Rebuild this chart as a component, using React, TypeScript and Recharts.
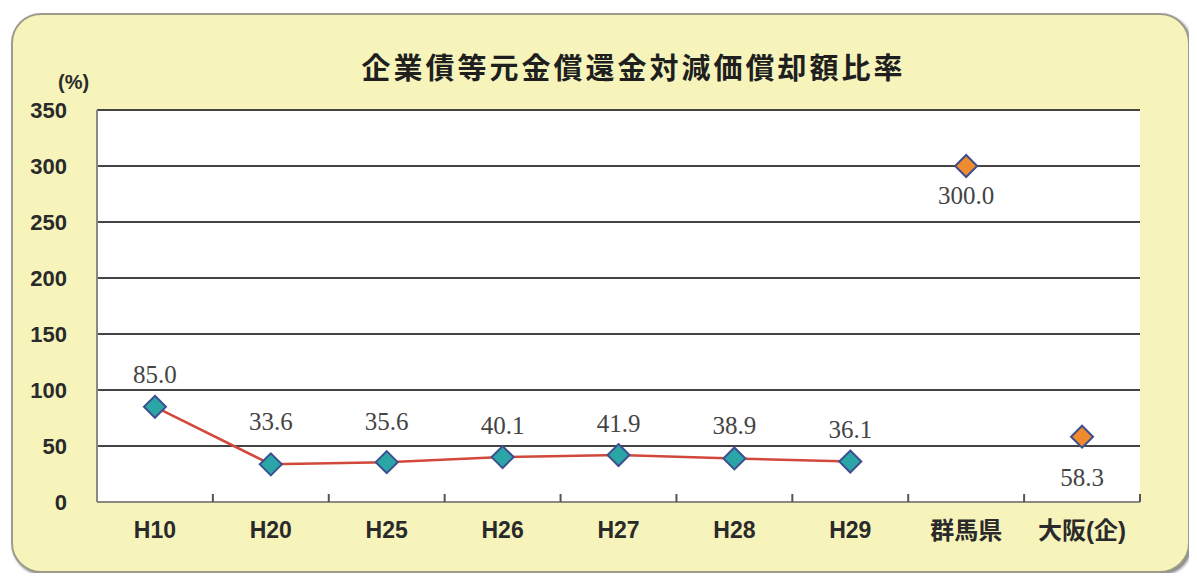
import React from "react"
import { ComposedChart, Line, XAxis, YAxis, CartesianGrid, LabelList } from "recharts"

const categories = ["H10", "H20", "H25", "H26", "H27", "H28", "H29", "群馬県", "大阪(企)"]
const trendValues = [85.0, 33.6, 35.6, 40.1, 41.9, 38.9, 36.1, null, null]
const compareValues = [null, null, null, null, null, null, null, 300.0, 58.3]
const yTicks = [0, 50, 100, 150, 200, 250, 300, 350]

// vertical nudge of each value label (px, negative = above the marker)
const labelShift = [-32, -43, -41, -32, -32, -33, -32, 29, 41]

const data = categories.map((name, i) => ({
  name,
  trend: trendValues[i],
  compare: compareValues[i],
}))

const W = 1179
const H = 560
const SANS = "'Liberation Sans', 'Noto Sans CJK JP', sans-serif"
const SERIF = "'Liberation Serif', 'DejaVu Serif', serif"

function diamond(fill: string) {
  return (props: any) => {
    const { cx, cy, value, index } = props
    if (value == null || cx == null || cy == null) return <g key={`d-${index}`} />
    const r = 11
    return (
      <polygon
        key={`d-${index}`}
        points={`${cx},${cy - r} ${cx + r},${cy} ${cx},${cy + r} ${cx - r},${cy}`}
        fill={fill}
        stroke="#3d4f8f"
        strokeWidth={2}
      />
    )
  }
}

const valueLabel = (props: any) => {
  const { x, y, value, index } = props
  if (value == null) return null
  return (
    <text
      x={x}
      y={y + labelShift[index]}
      textAnchor="middle"
      dominantBaseline="central"
      fontFamily={SERIF}
      fontSize={25}
      fill="#444"
    >
      {Number(value).toFixed(1)}
    </text>
  )
}

const XTick = (props: any) => {
  const { x, y, payload } = props
  const axisY = y - 20
  const bx = payload.coordinate + (payload.offset || 0)
  const cjk = /[^\x00-\x7f]/.test(String(payload.value))
  return (
    <g>
      <line x1={bx} x2={bx} y1={axisY} y2={axisY - 8} stroke="#555" strokeWidth={2} />
      <text
        x={x}
        y={y}
        dy="0.71em"
        textAnchor="middle"
        fontFamily={SANS}
        fontWeight="bold"
        fontSize={cjk ? 24 : 23}
        fill="#2a2a2a"
      >
        {payload.value}
      </text>
    </g>
  )
}

export default function App() {
  return (
    <div
      style={{
        position: "relative",
        width: W,
        height: H,
        marginLeft: 3,
        marginTop: 5,
        boxSizing: "border-box",
        background: "#f6f4bb",
        border: "2px solid #9c9c8c",
        borderRadius: 30,
        boxShadow: "2px 2px 3px #888",
      }}
    >
      <div
        style={{
          position: "absolute",
          left: -2,
          top: 30,
          width: W,
          textAlign: "center",
          paddingLeft: 66,
          boxSizing: "border-box",
          fontFamily: SANS,
          fontWeight: "bold",
          fontSize: 29,
          letterSpacing: 3,
          color: "#1f1f1f",
        }}
      >
        企業債等元金償還金対減価償却額比率
      </div>
      <div
        style={{
          position: "absolute",
          left: 45,
          top: 55,
          fontFamily: SANS,
          fontWeight: "bold",
          fontSize: 20,
          lineHeight: "24px",
          color: "#2a2a2a",
        }}
      >
        (%)
      </div>
      <div style={{ position: "absolute", left: -2, top: -2 }}>
        <ComposedChart
          width={W}
          height={H}
          data={data}
          margin={{ top: 97, right: 50, bottom: 41, left: 26 }}
        >
          <CartesianGrid vertical={false} stroke="#444" strokeWidth={2} fill="#ffffff" />
          <XAxis
            dataKey="name"
            scale="band"
            height={30}
            tickLine={false}
            tickSize={0}
            tickMargin={20}
            axisLine={{ stroke: "#8a8a80", strokeWidth: 2 }}
            tick={<XTick />}
            interval={0}
          />
          <YAxis
            width={60}
            domain={[0, 350]}
            ticks={yTicks}
            tickLine={false}
            tickSize={0}
            tickMargin={30}
            axisLine={{ stroke: "#8a8a80", strokeWidth: 2 }}
            tick={{ fontFamily: SANS, fontWeight: "bold", fontSize: 22, fill: "#2a2a2a" }}
          />
          <YAxis
            yAxisId="r"
            orientation="right"
            width={0}
            domain={[0, 350]}
            tick={false}
            tickLine={false}
            axisLine={{ stroke: "#8a8a80", strokeWidth: 2 }}
          />
          <Line
            dataKey="trend"
            stroke="#d2483a"
            strokeWidth={2.5}
            dot={diamond("#2aa6a6")}
            activeDot={false}
            isAnimationActive={false}
          >
            <LabelList dataKey="trend" content={valueLabel} />
          </Line>
          <Line
            dataKey="compare"
            stroke="none"
            dot={diamond("#ef8a2e")}
            activeDot={false}
            isAnimationActive={false}
          >
            <LabelList dataKey="compare" content={valueLabel} />
          </Line>
        </ComposedChart>
      </div>
    </div>
  )
}
